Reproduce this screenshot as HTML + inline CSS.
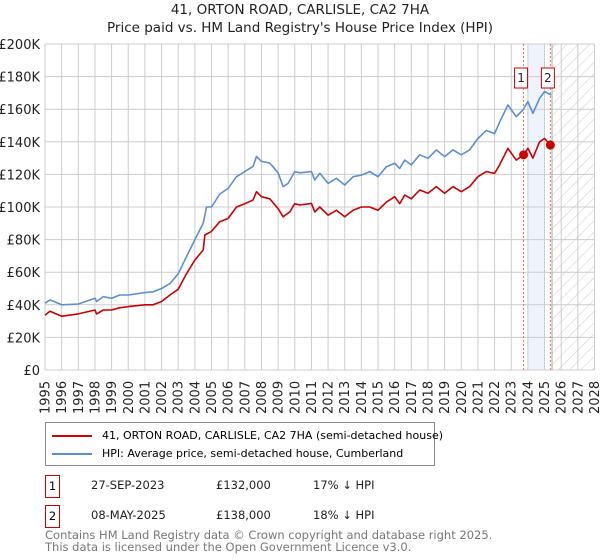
<!DOCTYPE html>
<html><head><meta charset="utf-8"><style>
body{margin:0;background:#fff;font-family:"Liberation Sans","DejaVu Sans",sans-serif;}
#wrap{position:relative;width:600px;height:560px;overflow:hidden;}
.t{position:absolute;color:#222;font-size:13px;white-space:nowrap;}
</style></head><body>
<div id="wrap">
<div class="t" style="left:0;width:600px;text-align:center;top:1px;font-size:13.5px;line-height:18px;font-family:'DejaVu Sans',sans-serif;">41, ORTON ROAD, CARLISLE, CA2 7HA<br>Price paid vs. HM Land Registry's House Price Index (HPI)</div>
<svg id="chart" width="600" height="420" style="position:absolute;left:0;top:0"></svg>
<div style="position:absolute;left:45px;top:422px;width:388px;height:42px;border:1px solid #888;font-family:'DejaVu Sans',sans-serif;font-size:11px;white-space:nowrap;">
 <div style="position:absolute;left:6px;top:6px;"><span style="display:inline-block;width:40px;height:2px;background:#cc0000;vertical-align:middle;margin-right:10px"></span>41, ORTON ROAD, CARLISLE, CA2 7HA (semi-detached house)</div>
 <div style="position:absolute;left:6px;top:24px;"><span style="display:inline-block;width:40px;height:2px;background:#5b8fd4;vertical-align:middle;margin-right:10px"></span>HPI: Average price, semi-detached house, Cumberland</div>
</div>
<div style="font-family:'DejaVu Sans',sans-serif;font-size:11.5px;">
 <div style="position:absolute;left:45px;top:475px;width:13px;height:21px;border:1px solid #cc0000;text-align:center;line-height:21px;">1</div>
 <div class="t" style="left:91px;top:478px;font-size:11.5px">27-SEP-2023</div>
 <div class="t" style="left:216px;top:478px;font-size:11.5px">£132,000</div>
 <div class="t" style="left:313px;top:478px;font-size:11.5px">17% ↓ HPI</div>
</div>
<div style="font-family:'DejaVu Sans',sans-serif;font-size:11.5px;">
 <div style="position:absolute;left:45px;top:505px;width:13px;height:21px;border:1px solid #cc0000;text-align:center;line-height:21px;">2</div>
 <div class="t" style="left:91px;top:508px;font-size:11.5px">08-MAY-2025</div>
 <div class="t" style="left:216px;top:508px;font-size:11.5px">£138,000</div>
 <div class="t" style="left:313px;top:508px;font-size:11.5px">18% ↓ HPI</div>
</div>
<div class="t" style="left:45px;top:529px;color:#777;font-size:11.5px;line-height:12px;font-family:'DejaVu Sans',sans-serif;">Contains HM Land Registry data © Crown copyright and database right 2025.<br>This data is licensed under the Open Government Licence v3.0.</div>
</div>
<script>
const yTicks=[0,20,40,60,80,100,120,140,160,180,200];
const xYears=[1995,1996,1997,1998,1999,2000,2001,2002,2003,2004,2005,2006,2007,2008,2009,2010,2011,2012,2013,2014,2015,2016,2017,2018,2019,2020,2021,2022,2023,2024,2025,2026,2027,2028];
const hpiT=[1995,1995.3,1996,1997,1998,1998.1,1998.5,1999,1999.5,2000,2001,2001.5,2002,2002.5,2003,2003.5,2004,2004.5,2004.7,2005,2005.5,2006,2006.5,2007,2007.5,2007.7,2008,2008.5,2009,2009.3,2009.6,2010,2010.3,2011,2011.2,2011.5,2012,2012.5,2013,2013.5,2014,2014.5,2015,2015.5,2016,2016.3,2016.6,2017,2017.5,2018,2018.5,2019,2019.5,2020,2020.5,2021,2021.5,2022,2022.3,2022.8,2023.3,2023.7,2024,2024.3,2024.7,2025,2025.4];
const hpiV=[41,43,40,40.5,44,42,45,44,46,46,47.5,48,50,53,59,69.5,80,90,100,100,108,111.5,118.6,121.7,125,131,128,127,121,112.5,114.5,121.7,121,121.7,116.6,120.7,114.5,117.6,113.5,118.6,119.6,121.7,118.6,124.7,126.8,123.7,128.8,125.8,132,129.9,135,130.9,135,132,135,142,147,145,152,162.6,155.4,159.5,164.6,157.5,166.7,170.8,168.7];
const propT=[1995,1995.3,1996,1997,1998,1998.1,1998.5,1999,1999.5,2000,2001,2001.5,2002,2002.5,2003,2003.5,2004,2004.5,2004.6,2005,2005.5,2006,2006.5,2007,2007.5,2007.7,2008,2008.5,2009,2009.3,2009.7,2010,2010.3,2011,2011.2,2011.5,2012,2012.5,2013,2013.5,2014,2014.5,2015,2015.5,2016,2016.3,2016.6,2017,2017.5,2018,2018.5,2019,2019.5,2020,2020.5,2021,2021.5,2022,2022.3,2022.8,2023.3,2023.74,2024,2024.3,2024.7,2025,2025.35];
const propV=[33.7,36,33,34.4,36.8,34.4,36.8,36.8,38.2,38.9,40,40,42,46,49.5,59,67.5,73.6,82.8,85,91,93,100,102,104.3,109.4,106.3,105,99,94,97,102,101.2,102.2,97,100,95,98,94,98,100,100,98,103,106.3,102,107.3,105,110.4,108.4,112.5,108.4,112.5,109.4,112.5,118.6,121.7,120.6,125.8,136,128.8,132,136,130,140,142,138];
const saleT=[2023.74,2025.35];
const saleV=[132,138];
const saleLbl=["1","2"];

const svg=document.getElementById('chart');const NS='http://www.w3.org/2000/svg';
const X0=45,X1=594.5,Y0=370,Y1=44;
const xs=t=>X0+(t-1995)*(X1-X0)/33;
const ys=v=>Y0-v*(Y0-Y1)/200;
function el(tag,a,p){const e=document.createElementNS(NS,tag);for(const k in a)e.setAttribute(k,a[k]);(p||svg).appendChild(e);return e;}
const defs=el('defs',{});
const pat=el('pattern',{id:'hatch',width:'8',height:'8',patternUnits:'userSpaceOnUse',patternTransform:'rotate(45)'},defs);
el('line',{x1:0,y1:0,x2:0,y2:8,stroke:'#ccc','stroke-width':1},pat);
let r=el('rect',{x:xs(2024),y:Y1,width:xs(2025)-xs(2024),height:Y0-Y1,fill:'#eef3fc'});


r=el('rect',{x:xs(2025.45),y:Y1,width:X1-xs(2025.45),height:Y0-Y1,fill:'url(#hatch)'});


yTicks.forEach(v=>{
 const l=el('line',{x1:X0,x2:X1,y1:ys(v),y2:ys(v),stroke:'#ccc','stroke-width':1});
 
 
 const t=el('text',{x:40,y:ys(v)+5,'text-anchor':'end','font-size':'13','font-family':'DejaVu Sans, sans-serif',fill:'#222'});
 t.textContent=v===0?'£0':'£'+v+'K';
 
 
});
xYears.forEach(yr=>{
 const l=el('line',{x1:xs(yr),x2:xs(yr),y1:Y1,y2:Y0,stroke:'#ccc','stroke-width':1});
 
 
 const t=el('text',{x:0,y:0,transform:`translate(${xs(yr)+4.5},${Y0+44}) rotate(-90)`,'font-size':'13','font-family':'DejaVu Sans, sans-serif',fill:'#222'});
 t.textContent=yr;
 
 
});
let g=el('line',{x1:xs(2025.45),x2:xs(2025.45),y1:Y1,y2:Y0,stroke:'#aaa','stroke-width':1});


saleT.forEach((t,i)=>{
 const l=el('line',{x1:xs(t),x2:xs(t),y1:Y1,y2:Y0,stroke:'#ff6666','stroke-width':1,'stroke-dasharray':'2,2'});
 
 
});
function path(T,V,c,name){
 const d=T.map((t,i)=>(i?'L':'M')+xs(t).toFixed(1)+','+ys(V[i]).toFixed(1)).join('');
 const p=el('path',{d:d,fill:'none',stroke:c,'stroke-width':1.6,'stroke-linejoin':'round'});
 
 
}
path(hpiT,hpiV,'#5b8fd4','hpi-line');
path(propT,propV,'#cc0000','property-line');
saleT.forEach((t,i)=>{
 const c=el('circle',{cx:xs(t),cy:ys(saleV[i]),r:4.5,fill:'#cc0000'});
 
 
 const b=el('rect',{x:xs(t)-9,y:68,width:13,height:20,fill:'#fff',stroke:'#cc0000','stroke-width':1});
 
 
 const tx=el('text',{x:xs(t)-2.5,y:82,'text-anchor':'middle','font-size':'12','font-family':'DejaVu Sans, sans-serif',fill:'#222'});
 tx.textContent=saleLbl[i];
 
 
});
</script>
</body></html>
